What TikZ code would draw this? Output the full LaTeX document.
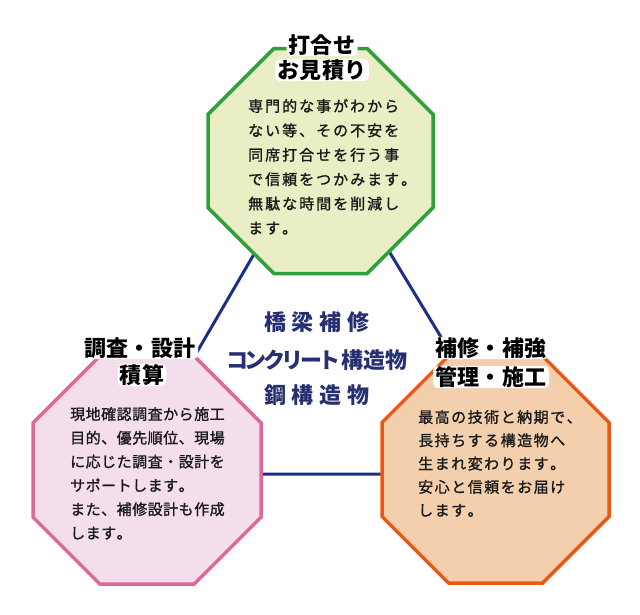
\documentclass[tikz,border=0pt]{standalone}
\usepackage{fontspec}
\setmainfont{Noto Sans CJK JP}
\newfontfamily\bodyfont{Noto Sans CJK JP}[FakeBold=1.2]
\definecolor{grnB}{RGB}{46,160,58}
\definecolor{grnF}{RGB}{233,238,196}
\definecolor{pnkB}{RGB}{222,104,152}
\definecolor{pnkF}{RGB}{244,222,235}
\definecolor{orgB}{RGB}{234,88,22}
\definecolor{orgF}{RGB}{243,207,173}
\definecolor{navyL}{RGB}{30,45,135}
\definecolor{navyT}{RGB}{38,48,112}
\definecolor{txt}{RGB}{25,25,25}
\makeatletter
\protected\def\spc#1#2{\begingroup\def\sp@a{#1}\edef\sp@t{#2}\expandafter\sp@loop\sp@t\relax\endgroup}
\def\sp@loop#1{\ifx#1\relax\kern-\sp@a\else#1\kern\sp@a\expandafter\sp@loop\fi}
\makeatother
\newcommand\octa[4]{\draw[#4] ({#1-0.41421*#3},{#2-#3}) -- ({#1+0.41421*#3},{#2-#3}) -- ({#1+#3},{#2-0.41421*#3}) -- ({#1+#3},{#2+0.41421*#3}) -- ({#1+0.41421*#3},{#2+#3}) -- ({#1-0.41421*#3},{#2+#3}) -- ({#1-#3},{#2+0.41421*#3}) -- ({#1-#3},{#2-0.41421*#3}) -- cycle;}
\tikzset{
  octbox/.style={line width=3.5pt},
  link/.style={navyL, line width=3pt},
  bodytxt/.style={anchor=base west, inner sep=0pt, text=txt, font=\fontsize{15}{18}\bodyfont},
  ttl/.style={anchor=base, inner xsep=2pt, inner ysep=0.6pt, fill=white, rounded corners=5pt, text=black, font=\fontsize{22}{26}\selectfont\bfseries},
  ctr/.style={anchor=base, inner sep=0pt, text=navyT, font=\fontsize{22}{26}\selectfont\bfseries}
}
\begin{document}
\begin{tikzpicture}[x=1pt,y=-1pt]
\useasboundingbox (0,0) rectangle (640,614);
% triangle of links
\coordinate (A) at (321,139);
\coordinate (B) at (126,474);
\coordinate (C) at (524,474);
\draw[link] (A) -- (B) -- (C) -- cycle;
% octagons
\octa{320.5}{161}{112.5}{octbox, draw=grnB, fill=grnF}
\octa{147}{470}{114}{octbox, draw=pnkB, fill=pnkF}
\octa{495.5}{469.5}{113.5}{octbox, draw=orgB, fill=orgF}
% titles
\node[ttl] (g1) at (322,53.4) {\spc{0.5pt}{打合せ}};
\node[ttl] (g2) at (322,78.4) {\spc{0.5pt}{お見積り}};
\node[ttl] (p1) at (140,356.4) {\spc{0.5pt}{調査・設計}};
\node[ttl] (p2) at (142,383.4) {\spc{0.5pt}{積算}};
\node[ttl] (o1) at (491,356.4) {\spc{0.5pt}{補修・補強}};
\node[ttl] (o2) at (491,385.4) {\spc{0.5pt}{管理・施工}};
% body texts
\foreach \l [count=\i] in {専門的な事がわから,ない等、その不安を,同席打合せを行う事,で信頼をつかみます。,無駄な時間を削減し,ます。}
  \node[bodytxt] (gt\i) at (248,{111.7+24.4*(\i-1)}) {\spc{2pt}{\l}};
\foreach \l [count=\i] in {現地確認調査から施工,目的、優先順位、現場,に応じた調査・設計を,サポートします。,また、補修設計も作成,します。}
  \node[bodytxt] (pt\i) at (70,{419.7+23.8*(\i-1)}) {\spc{0.5pt}{\l}};
\foreach \l [count=\i] in {最高の技術と納期で、,長持ちする構造物へ,生まれ変わります。,安心と信頼をお届け,します。}
  \node[bodytxt] (ot\i) at (418,{422.7+23.3*(\i-1)}) {\spc{1.5pt}{\l}};
% centre text
\node[ctr] (c1) at (317,330.5) {\spc{6pt}{橋梁補修}};
\node[ctr] (c2) at (317,368.5) {\spc{-3.6pt}{コンクリート}\kern1pt\spc{0pt}{構造物}};
\node[ctr] (c3) at (317,403.5) {\spc{6pt}{鋼構造物}};
\end{tikzpicture}
\end{document}
